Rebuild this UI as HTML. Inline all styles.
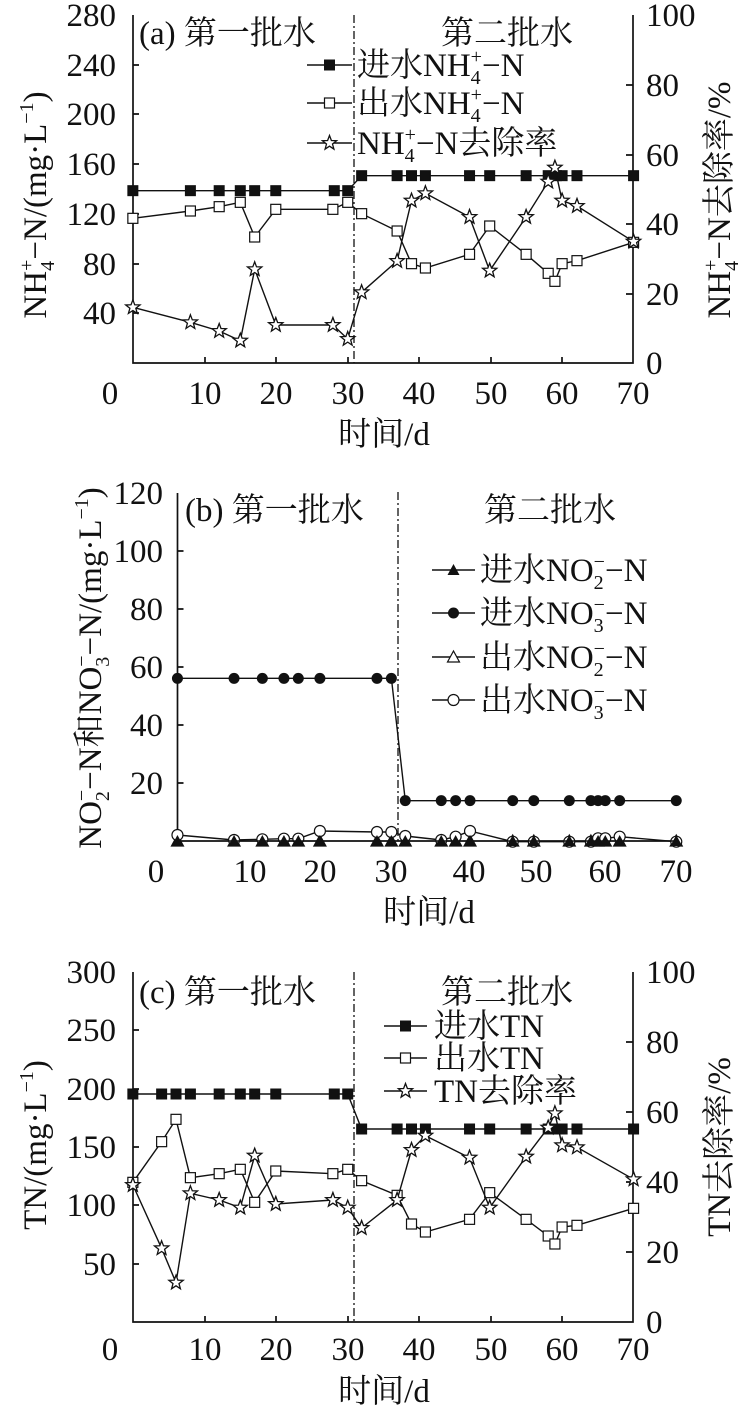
<!DOCTYPE html>
<html><head><meta charset="utf-8"><style>
html,body{margin:0;padding:0;background:#fff;}
svg{display:block;font-family:"Liberation Serif","Noto Serif CJK SC",serif;}
text{fill:#111;}
</style></head><body>
<svg id="s" width="746" height="1411" viewBox="0 0 746 1411" xmlns="http://www.w3.org/2000/svg">
<g fill="none" stroke="#111" stroke-width="1.7">
<path d="M133,15 V363 H633 V15"/>
<path d="M133,65 h6 M133,114 h6 M133,164 h6 M133,214 h6 M133,264 h6 M133,313 h6"/>
<path d="M633,85 h-7 M633,155 h-7 M633,224 h-7 M633,294 h-7"/>
<path d="M205,363 v-6 M276,363 v-6 M348,363 v-6 M419,363 v-6 M491,363 v-6 M562,363 v-6"/>
<path d="M354,15 V363" stroke-width="1.3" stroke-dasharray="8,3,2,3"/>
<path d="M177.5,493 V841"/>
<path d="M177.5,551 h6 M177.5,609 h6 M177.5,667 h6 M177.5,725 h6 M177.5,783 h6"/>
<path d="M398,492 V841" stroke-width="1.3" stroke-dasharray="8,3,2,3"/>
<path d="M133,972 V1322 H633 V972"/>
<path d="M133,1030 h6 M133,1089 h6 M133,1147 h6 M133,1205 h6 M133,1264 h6"/>
<path d="M633,1042 h-7 M633,1112 h-7 M633,1182 h-7 M633,1252 h-7"/>
<path d="M205,1322 v-6 M276,1322 v-6 M348,1322 v-6 M419,1322 v-6 M491,1322 v-6 M562,1322 v-6"/>
<path d="M354,972 V1322" stroke-width="1.3" stroke-dasharray="8,3,2,3"/>
</g>
<g id="data"></g>
<g font-size="33">
<g text-anchor="end">
<text x="116" y="26">280</text><text x="116" y="76">240</text><text x="116" y="125">200</text>
<text x="116" y="175">160</text><text x="116" y="225">120</text><text x="116" y="275">80</text><text x="116" y="324">40</text>
</g>
<text x="646" y="26">100</text><text x="646" y="96">80</text><text x="646" y="166">60</text>
<text x="646" y="235">40</text><text x="646" y="305">20</text><text x="646" y="374">0</text>
<g text-anchor="middle">
<text x="110" y="404">0</text><text x="205" y="404">10</text><text x="276" y="404">20</text><text x="348" y="404">30</text>
<text x="419" y="404">40</text><text x="491" y="404">50</text><text x="562" y="404">60</text><text x="633" y="404">70</text>
<text x="384" y="445">时间/d</text>
</g>
<text x="139" y="44">(a) 第一批水</text><text x="441" y="44">第二批水</text>
<text x="357" y="76">进水NH<tspan font-size="20" dy="8">4</tspan><tspan font-size="20" dy="-21" dx="-10">+</tspan><tspan dy="13">−N</tspan></text>
<text x="357" y="114">出水NH<tspan font-size="20" dy="8">4</tspan><tspan font-size="20" dy="-21" dx="-10">+</tspan><tspan dy="13">−N</tspan></text>
<text x="357" y="154">NH<tspan font-size="20" dy="8">4</tspan><tspan font-size="20" dy="-21" dx="-10">+</tspan><tspan dy="13">−N去除率</tspan></text>
<text transform="translate(46,205) rotate(-90)" text-anchor="middle">NH<tspan font-size="20" dy="8">4</tspan><tspan font-size="20" dy="-21" dx="-10">+</tspan><tspan dy="13">−N/(mg·L</tspan><tspan font-size="20" dy="-13">−1</tspan><tspan dy="13">)</tspan></text>
<text transform="translate(730,200) rotate(-90)" text-anchor="middle">NH<tspan font-size="20" dy="8">4</tspan><tspan font-size="20" dy="-21" dx="-10">+</tspan><tspan dy="13">−N去除率/%</tspan></text>
<g text-anchor="end">
<text x="163" y="504">120</text><text x="163" y="562">100</text><text x="163" y="620">80</text>
<text x="163" y="678">60</text><text x="163" y="736">40</text><text x="163" y="794">20</text>
</g>
<g text-anchor="middle">
<text x="156" y="882">0</text><text x="250" y="882">10</text><text x="320" y="882">20</text><text x="391" y="882">30</text>
<text x="469" y="882">40</text><text x="536" y="882">50</text><text x="605" y="882">60</text><text x="676" y="882">70</text>
<text x="429" y="923">时间/d</text>
</g>
<text x="185" y="521">(b) 第一批水</text><text x="484" y="521">第二批水</text>
<text x="480" y="581">进水NO<tspan font-size="20" dy="8">2</tspan><tspan font-size="20" dy="-21" dx="-10">−</tspan><tspan dy="13">−N</tspan></text>
<text x="480" y="624">进水NO<tspan font-size="20" dy="8">3</tspan><tspan font-size="20" dy="-21" dx="-10">−</tspan><tspan dy="13">−N</tspan></text>
<text x="480" y="668">出水NO<tspan font-size="20" dy="8">2</tspan><tspan font-size="20" dy="-21" dx="-10">−</tspan><tspan dy="13">−N</tspan></text>
<text x="480" y="711">出水NO<tspan font-size="20" dy="8">3</tspan><tspan font-size="20" dy="-21" dx="-10">−</tspan><tspan dy="13">−N</tspan></text>
<text transform="translate(101,668) rotate(-90)" text-anchor="middle">NO<tspan font-size="20" dy="8">2</tspan><tspan font-size="20" dy="-21" dx="-10">−</tspan><tspan dy="13">−N和NO</tspan><tspan font-size="20" dy="8">3</tspan><tspan font-size="20" dy="-21" dx="-10">−</tspan><tspan dy="13">−N/(mg·L</tspan><tspan font-size="20" dy="-13">−1</tspan><tspan dy="13">)</tspan></text>
<g text-anchor="end">
<text x="116" y="983">300</text><text x="116" y="1041">250</text><text x="116" y="1100">200</text>
<text x="116" y="1158">150</text><text x="116" y="1216">100</text><text x="116" y="1275">50</text>
</g>
<text x="646" y="983">100</text><text x="646" y="1053">80</text><text x="646" y="1123">60</text>
<text x="646" y="1193">40</text><text x="646" y="1263">20</text><text x="646" y="1333">0</text>
<g text-anchor="middle">
<text x="110" y="1360">0</text><text x="205" y="1360">10</text><text x="276" y="1360">20</text><text x="348" y="1360">30</text>
<text x="419" y="1360">40</text><text x="491" y="1360">50</text><text x="562" y="1360">60</text><text x="633" y="1360">70</text>
<text x="384" y="1402">时间/d</text>
</g>
<text x="139" y="1003">(c) 第一批水</text><text x="441" y="1003">第二批水</text>
<text x="434" y="1037">进水TN</text>
<text x="434" y="1069">出水TN</text>
<text x="434" y="1102">TN去除率</text>
<text transform="translate(46,1145) rotate(-90)" text-anchor="middle">TN/(mg·L<tspan font-size="20" dy="-13">−1</tspan><tspan dy="13">)</tspan></text>
<text transform="translate(730,1147) rotate(-90)" text-anchor="middle">TN去除率/%</text>
</g>
</svg>
<script>
var NS="http://www.w3.org/2000/svg",G=document.getElementById("data");
function el(t,a){var e=document.createElementNS(NS,t);for(var k in a)e.setAttribute(k,a[k]);G.appendChild(e);return e;}
function X(z){return z/2.085;}
function star(x,y,r){var p=[];for(var i=0;i<10;i++){var rr=i%2?r*0.42:r,a=-Math.PI/2+i*Math.PI/5;p.push((x+rr*Math.cos(a)).toFixed(1)+","+(y+rr*Math.sin(a)).toFixed(1));}return p.join(" ");}
function mark(type,x,y){
 if(type=="fs")el("rect",{x:x-5,y:y-5,width:10,height:10,fill:"#111",stroke:"#111"});
 else if(type=="os")el("rect",{x:x-5,y:y-5,width:10,height:10,fill:"#fff",stroke:"#111","stroke-width":1.2});
 else if(type=="st")el("polygon",{points:star(x,y,7.5),fill:"#fff",stroke:"#111","stroke-width":1.3});
 else if(type=="fc")el("circle",{cx:x,cy:y,r:5.5,fill:"#111"});
 else if(type=="oc")el("circle",{cx:x,cy:y,r:5.5,fill:"#fff",stroke:"#111","stroke-width":1.2});
 else if(type=="ft")el("polygon",{points:(x-6)+","+(y+5)+" "+(x+6)+","+(y+5)+" "+x+","+(y-6),fill:"#111"});
 else if(type=="ot")el("polygon",{points:(x-6)+","+(y+5)+" "+(x+6)+","+(y+5)+" "+x+","+(y-6),fill:"#fff",stroke:"#111","stroke-width":1.2});
}
function series(xs,ys,off,type){
 var pts=xs.map(function(z,i){return [X(z),off+ys[i]/3];});
 el("polyline",{points:pts.map(function(p){return p[0].toFixed(1)+","+p[1].toFixed(1);}).join(" "),fill:"none",stroke:"#111","stroke-width":1.4});
 pts.forEach(function(p){mark(type,p[0],p[1]);});
}
function rep(v,n){var a=[];for(var i=0;i<n;i++)a.push(v);return a;}
function leg(x1,x2,y,type){el("line",{x1:x1,x2:x2,y1:y,y2:y,stroke:"#111","stroke-width":1.4});mark(type,(x1+x2)/2,y);}
var ax=[277,397,457,501,531,575,697,725,754,828,858,887,979,1021,1097,1143,1160,1172,1203,1321];
var ax2=[277,397,457,501,531,575,694,725,754,828,858,887,979,1021,1097,1143,1157,1172,1203,1321];
series(ax,rep(572,8).concat(rep(527,12)),0,"fs");
series(ax2,[655,633,620,607,711,628,628,607,641,693,791,804,763,678,763,820,844,791,782,727],0,"os");
series(ax2,[922,967,993,1022,808,975,975,1017,877,783,602,580,651,812,651,545,503,602,618,725],0,"st");
leg(307,352,65,"fs");leg(307,352,103,"os");leg(307,352,143,"st");
var bx=[370,488,547,592,622,667,786,816,845,920,950,980,1069,1113,1187,1232,1247,1262,1292,1410];
series(bx,rep(1143,20),460,"ot");
series(bx,rep(655,8).concat(rep(1022,12)),460,"fc");
series(bx,[1125,1140,1138,1136,1136,1113,1116,1116,1128,1140,1130,1113,1145,1145,1145,1145,1135,1135,1130,1145],460,"oc");
series(bx,rep(1143,20),460,"ft");
leg(432,475,570,"ft");leg(432,475,613,"fc");leg(432,475,657,"ot");leg(432,475,700,"oc");
var cx=[277,337,367,397,457,501,531,575,697,725,754,828,858,887,979,1021,1097,1143,1160,1172,1203,1321];
var cx2=[277,337,367,397,457,501,531,575,694,725,754,828,858,887,979,1021,1097,1143,1157,1172,1203,1321];
series(cx,rep(432,10).concat(rep(537,12)),950,"fs");
series(cx2,[697,575,508,683,671,658,757,663,671,658,692,736,822,846,808,728,808,858,882,831,826,775],950,"os");
series(cx2,[705,895,998,730,750,773,617,762,750,773,834,750,600,557,623,773,620,533,490,586,592,688],950,"st");
leg(384,427,1026,"fs");leg(384,427,1058,"os");leg(384,427,1091,"st");
</script>
</body></html>
